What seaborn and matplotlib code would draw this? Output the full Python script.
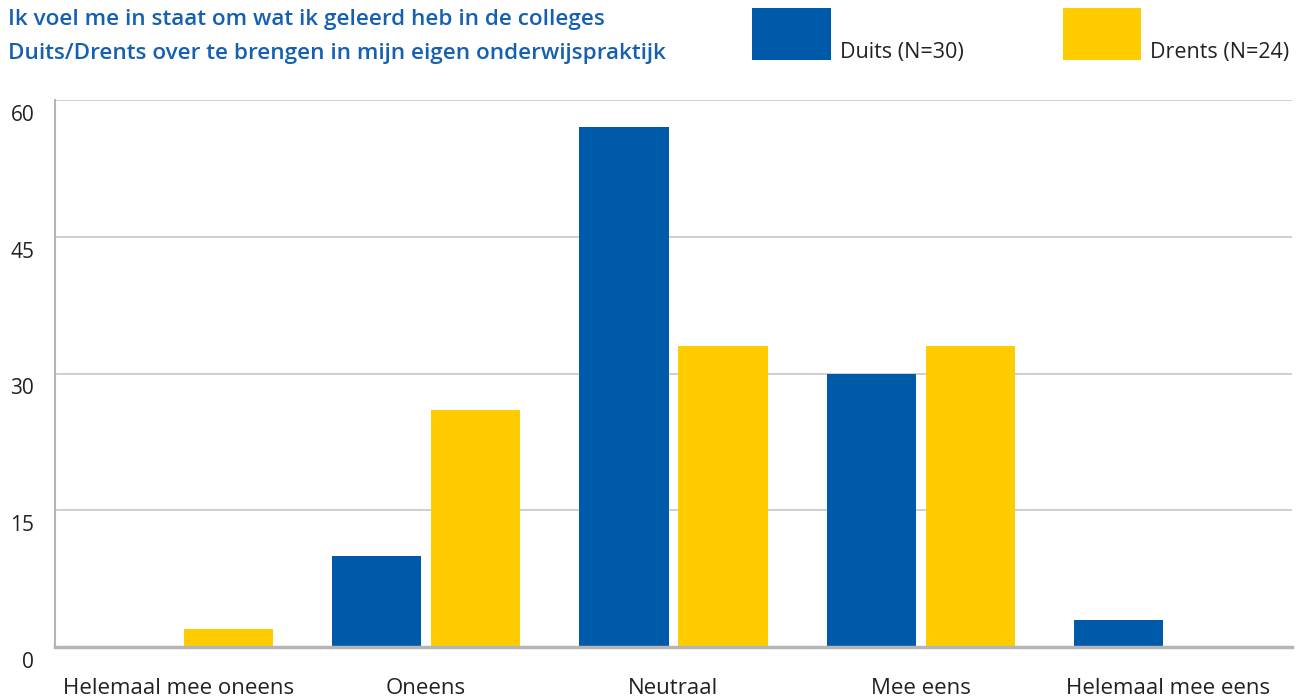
import matplotlib
matplotlib.use("Agg")
import matplotlib.pyplot as plt
import matplotlib.transforms as mtransforms
from matplotlib.patches import Rectangle
import seaborn as sns
import pandas as pd

categories = ["Helemaal mee oneens", "Oneens", "Neutraal", "Mee eens", "Helemaal mee eens"]
duits = [0, 10, 57, 30, 3]
drents = [2, 26, 33, 33, 0]
series_names = ["Duits (N=30)", "Drents (N=24)"]
yticks = [0, 15, 30, 45, 60]
title_lines = ["Ik voel me in staat om wat ik geleerd heb in de colleges",
               "Duits/Drents over te brengen in mijn eigen onderwijspraktijk"]

BLUE = "#005AAA"
YELLOW = "#FFCC00"
TITLE_C = "#1560B0"
TEXT_C = "#222222"

sns.set_theme(style="white")
plt.rcParams["font.family"] = ["Open Sans", "DejaVu Sans"]

df = pd.DataFrame({
    "cat": categories * 2,
    "val": duits + drents,
    "serie": [series_names[0]] * len(categories) + [series_names[1]] * len(categories),
})

fig = plt.figure(figsize=(13.08, 7.0), dpi=100)
ax = fig.add_axes([55 / 1308, 53 / 700, 1237 / 1308, 547 / 700])

sns.barplot(data=df, x="cat", y="val", hue="serie", order=categories,
            hue_order=series_names, palette=[BLUE, YELLOW], width=0.8, gap=0.1,
            saturation=1, legend=False, ax=ax, linewidth=0)

ax.set_ylim(0, 60)
ax.set_xlim(-0.5, len(categories) - 0.5)
ax.set_yticks(yticks)
ax.set_yticklabels([str(t) for t in yticks], fontsize=15, color=TEXT_C)
ax.set_xticks(range(len(categories)))
ax.set_xticklabels(categories, fontsize=16, color=TEXT_C)
ax.set_xlabel("")
ax.set_ylabel("")
ax.grid(axis="y", color="#cccccc", linewidth=1.3)
ax.set_axisbelow(True)
for s in ["top", "right"]:
    ax.spines[s].set_visible(False)
ax.spines["left"].set_color("#b5b5b5")
ax.spines["left"].set_linewidth(1.5)
ax.spines["bottom"].set_color("#b5b5b5")
ax.spines["bottom"].set_linewidth(2.5)
ax.tick_params(axis="y", length=0, pad=15)
ax.tick_params(axis="x", length=0, pad=22)

off = mtransforms.ScaledTranslation(0, -13 / 100, fig.dpi_scale_trans)
for lab in ax.get_yticklabels():
    lab.set_transform(lab.get_transform() + off)

# title
fig.text(8 / 1308, 1 - 19 / 700, title_lines[0], fontsize=16.2, color=TITLE_C,
         fontweight="semibold", va="center", ha="left")
fig.text(8 / 1308, 1 - 53 / 700, title_lines[1], fontsize=16.2, color=TITLE_C,
         fontweight="semibold", va="center", ha="left")

# legend
for (x0, x1, tx), col, name in zip([(752, 831, 840), (1063, 1141, 1150)],
                                   [BLUE, YELLOW], series_names):
    fig.add_artist(Rectangle((x0 / 1308, 1 - 60 / 700), (x1 - x0) / 1308, 52 / 700,
                             transform=fig.transFigure, color=col, lw=0))
    fig.text(tx / 1308, 1 - 58 / 700, name, fontsize=15.5, color=TEXT_C,
             va="baseline", ha="left")

fig.savefig("out.png", dpi=100)
